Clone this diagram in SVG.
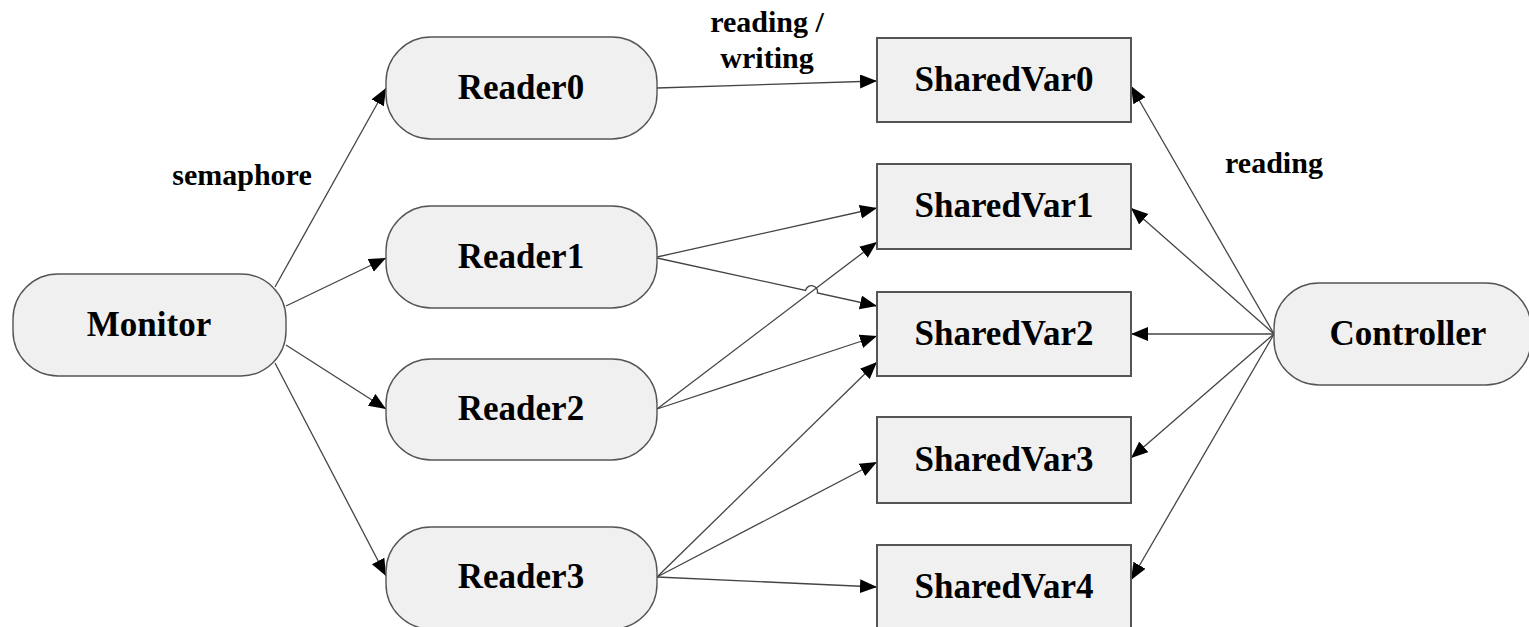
<svg xmlns="http://www.w3.org/2000/svg" width="1529" height="627" viewBox="0 0 1529 627">
<style>
.node{fill:#f0f0f0;stroke:#555;stroke-width:1.4}
.box{fill:#f0f0f0;stroke:#555;stroke-width:2}
.nt{font-family:"Liberation Serif",serif;font-weight:bold;font-size:35px;fill:#000;text-anchor:middle}
.lt{font-family:"Liberation Serif",serif;font-weight:bold;font-size:30px;fill:#000;text-anchor:middle}
.edge{fill:none;stroke:#444;stroke-width:1.3;marker-end:url(#arr)}
</style>
<defs>
<marker id="arr" markerUnits="userSpaceOnUse" markerWidth="18" markerHeight="15" refX="17" refY="7" orient="auto">
<path d="M0,0 L17,7 L0,14 z" fill="#000"/>
</marker>
</defs>
<g id="connectors">
<path class="edge" d="M275,287 L386,88"/>
<path class="edge" d="M286,306 L386,258"/>
<path class="edge" d="M286,345 L386,409"/>
<path class="edge" d="M275,363 L386,576"/>
<path class="edge" d="M657,88 L877,81"/>
<path class="edge" d="M657,257 L877,208"/>
<path class="edge" d="M657,258 L805.6,290.4 A6,6 0 0 1 817.4,293 L877,306"/>
<path class="edge" d="M657,409 L877,242"/>
<path class="edge" d="M657,409 L877,336"/>
<path class="edge" d="M657,577 L877,362"/>
<path class="edge" d="M657,577 L877,462"/>
<path class="edge" d="M657,577 L877,587"/>
<path class="edge" d="M1274,334 L1131,86"/>
<path class="edge" d="M1274,334 L1131,208"/>
<path class="edge" d="M1274,334 L1131,334"/>
<path class="edge" d="M1274,334 L1131,458"/>
<path class="edge" d="M1274,334 L1131,580"/>
</g>
<g id="labels">
<text class="lt" x="242" y="185">semaphore</text>
<text class="lt" x="767" y="32">reading /</text>
<text class="lt" x="767" y="68">writing</text>
<text class="lt" x="1274" y="173">reading</text>
</g>
<g id="Monitor"><rect class="node" x="13" y="274" width="273" height="102" rx="45" ry="45"/><text class="nt" x="149" y="336">Monitor</text></g>
<g id="Reader0"><rect class="node" x="386" y="37" width="271" height="102" rx="45" ry="45"/><text class="nt" x="521" y="99">Reader0</text></g>
<g id="Reader1"><rect class="node" x="386" y="206" width="271" height="102" rx="45" ry="45"/><text class="nt" x="521" y="268">Reader1</text></g>
<g id="Reader2"><rect class="node" x="386" y="359" width="271" height="101" rx="45" ry="45"/><text class="nt" x="521" y="420">Reader2</text></g>
<g id="Reader3"><rect class="node" x="386" y="527" width="271" height="102" rx="45" ry="45"/><text class="nt" x="521" y="588">Reader3</text></g>
<g id="SharedVar0"><rect class="box" x="877" y="38" width="254" height="84"/><text class="nt" x="1004" y="91">SharedVar0</text></g>
<g id="SharedVar1"><rect class="box" x="877" y="164" width="254" height="85"/><text class="nt" x="1004" y="217">SharedVar1</text></g>
<g id="SharedVar2"><rect class="box" x="877" y="292" width="254" height="84"/><text class="nt" x="1004" y="345">SharedVar2</text></g>
<g id="SharedVar3"><rect class="box" x="877" y="417" width="254" height="86"/><text class="nt" x="1004" y="471">SharedVar3</text></g>
<g id="SharedVar4"><rect class="box" x="877" y="545" width="254" height="86"/><text class="nt" x="1004" y="598">SharedVar4</text></g>
<g id="Controller"><rect class="node" x="1274" y="283" width="257" height="102" rx="45" ry="45"/><text class="nt" x="1408" y="345">Controller</text></g>
</svg>
